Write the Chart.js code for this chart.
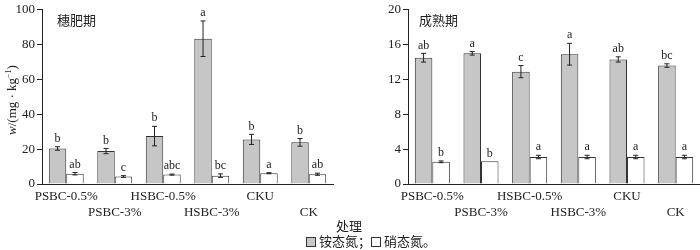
<!DOCTYPE html>
<html>
<head>
<meta charset="utf-8">
<script src="https://cdn.jsdelivr.net/npm/chart.js@4.4.1/dist/chart.umd.min.js"></script>
<style>
  body { margin: 0; background: #fff; width: 700px; height: 250px; position: relative; overflow: hidden; color: #222; }
  .panel { position: absolute; top: 0; width: 350px; height: 250px; }
  .txt { position: absolute; font-family: "Noto Sans CJK SC", sans-serif; font-size: 13px; white-space: nowrap; line-height: 16px; }
  .sq { display: inline-block; width: 8px; height: 8px; border: 1px solid #333; vertical-align: -1px; margin-right: 3px; }
  .ytitle { position: absolute; left: 12px; top: 100px; transform: translate(-50%, -50%) rotate(-90deg);
            font-family: "Liberation Serif", serif; font-size: 13px; white-space: nowrap; line-height: 14px; }
  .ytitle sup { font-size: 8px; vertical-align: 5px; line-height: 0; }
</style>
</head>
<body>
<div class="panel" style="left:0"><canvas id="earChart"></canvas></div>
<div class="panel" style="left:350px"><canvas id="matureChart"></canvas></div>
<div class="ytitle"><i>w</i>/(mg · kg<sup>−1</sup>)</div>
<div class="txt" style="left:57px;top:12px">穗肥期</div>
<div class="txt" style="left:419px;top:12px">成熟期</div>
<div class="txt" style="left:336px;top:218px">处理</div>
<div class="txt" style="left:306px;top:233px"><span class="sq" style="background:#c8c8c8"></span>铵态氮；<span class="sq" style="background:#fff"></span>硝态氮。</div>

<script>
// categories (two-row labels like the printed figure)
const treatments = ["PSBC-0.5%", "PSBC-3%", "HSBC-0.5%", "HSBC-3%", "CKU", "CK"];

// 穗肥期 (left)
const earNH4 = [20.4, 18.9, 27.5, 83.4, 25.6, 23.9];
const earNH4Err = [1.0, 1.5, 5.6, 10.2, 2.9, 2.2];
const earNH4Sig = ["b", "b", "b", "a", "b", "b"];
const earNO3 = [5.9, 4.3, 5.4, 4.8, 6.2, 5.6];
const earNO3Err = [0.7, 0.5, 0.3, 1.0, 0.3, 0.6];
const earNO3Sig = ["ab", "c", "abc", "bc", "a", "ab"];

// 成熟期 (right)
const matNH4 = [14.5, 15.0, 12.9, 14.9, 14.3, 13.6];
const matNH4Err = [0.5, 0.2, 0.7, 1.25, 0.3, 0.2];
const matNH4Sig = ["ab", "a", "c", "a", "ab", "bc"];
const matNO3 = [2.55, 2.6, 3.1, 3.1, 3.1, 3.1];
const matNO3Err = [0.1, 0, 0.2, 0.2, 0.2, 0.2];
const matNO3Sig = ["b", "b", "a", "a", "a", "a"];

const serif = "'Liberation Serif', 'Times New Roman', serif";
const ink = "#222";

// labels alternate between the first and second row
const xLabels = treatments.map((t, i) => i % 2 === 0 ? [t, ""] : ["", t]);

// error bars and significance letters
const errorPlugin = {
  id: "errorBars",
  afterDatasetsDraw(chart) {
    const ctx = chart.ctx;
    const y = chart.scales.y;
    ctx.save();
    chart.data.datasets.forEach((ds, di) => {
      const meta = chart.getDatasetMeta(di);
      meta.data.forEach((bar, i) => {
        const v = ds.data[i], e = ds.errs[i];
        const top = y.getPixelForValue(v + e);
        const bot = y.getPixelForValue(v - e);
        ctx.strokeStyle = ink;
        ctx.lineWidth = 1;
        if (e > 0) {
          ctx.beginPath();
          ctx.moveTo(bar.x, top); ctx.lineTo(bar.x, bot);
          ctx.moveTo(bar.x - 2.5, top); ctx.lineTo(bar.x + 2.5, top);
          ctx.moveTo(bar.x - 2.5, bot); ctx.lineTo(bar.x + 2.5, bot);
          ctx.stroke();
        }
        ctx.fillStyle = ink;
        ctx.font = "12px " + serif;
        ctx.textAlign = "center";
        ctx.textBaseline = "bottom";
        ctx.fillText(ds.sig[i], bar.x, top - 2);
      });
    });
    ctx.restore();
  }
};

function makeChart(id, nh4, nh4Err, nh4Sig, no3, no3Err, no3Sig, yMax, yStep, yWidth, padRight) {
  return new Chart(document.getElementById(id), {
    type: "bar",
    data: {
      labels: xLabels,
      datasets: [
        { label: "铵态氮", data: nh4, errs: nh4Err, sig: nh4Sig,
          backgroundColor: "#c6c6c6", borderColor: "#333", borderWidth: 1 },
        { label: "硝态氮", data: no3, errs: no3Err, sig: no3Sig,
          backgroundColor: "#ffffff", borderColor: "#333", borderWidth: 1 }
      ]
    },
    options: {
      responsive: true,
      maintainAspectRatio: false,
      animation: false,
      layout: { padding: { top: 5, right: padRight, left: 0, bottom: 0 } },
      plugins: { legend: { display: false }, tooltip: { enabled: false } },
      datasets: { bar: { categoryPercentage: 0.72, barPercentage: 1.0 } },
      scales: {
        x: {
          grid: { display: false, drawTicks: false },
          border: { color: ink, width: 1 },
          ticks: { color: ink, font: { family: serif, size: 13, lineHeight: 1.25 },
                   padding: 4, autoSkip: false, maxRotation: 0 },
          afterFit(scale) { scale.height = 66; }
        },
        y: {
          min: 0, max: yMax,
          grid: { drawOnChartArea: false, drawTicks: true, tickLength: 5, color: ink },
          border: { color: ink, width: 1 },
          ticks: { stepSize: yStep, color: ink, font: { family: serif, size: 13 }, padding: 2 },
          afterFit(scale) { scale.width = yWidth; }
        }
      }
    },
    plugins: [errorPlugin]
  });
}

makeChart("earChart", earNH4, earNH4Err, earNH4Sig, earNO3, earNO3Err, earNO3Sig, 100, 20, 42, 17);
makeChart("matureChart", matNH4, matNH4Err, matNH4Sig, matNO3, matNO3Err, matNO3Sig, 20, 4, 58, 0);
</script>
</body>
</html>
